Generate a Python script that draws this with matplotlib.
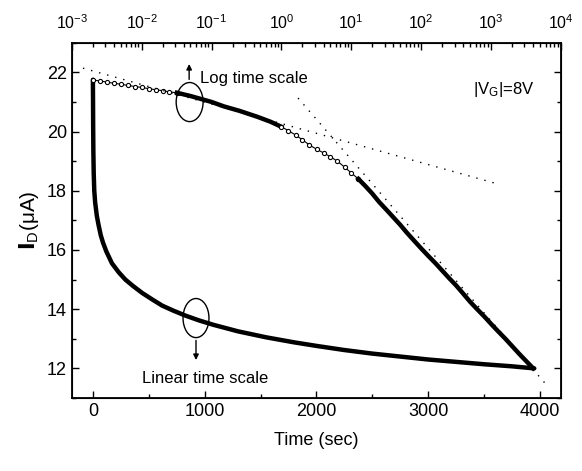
import matplotlib
matplotlib.use('Agg')
import matplotlib.pyplot as plt
from matplotlib.patches import Ellipse
from matplotlib.ticker import MultipleLocator, LogLocator, NullFormatter

plt.rcParams.update({'font.family': ['Liberation Sans', 'DejaVu Sans'],
                     'mathtext.default': 'regular', 'font.size': 13})

# linear time scale curve (bottom axis)
t_lin = [0, 0, 1, 2, 4, 7, 12, 20, 35, 50, 70, 90, 120, 170, 230, 290, 360,
         440, 530, 620, 720, 830, 950, 1080, 1300, 1550, 1800, 2000, 2250,
         2500, 2750, 3000, 3250, 3500, 3750, 3950]
i_lin = [21.75, 21.5, 21.0, 20.2, 19.3, 18.6, 18.0, 17.6, 17.15, 16.85,
         16.5, 16.25, 15.95, 15.55, 15.25, 15.0, 14.78, 14.55, 14.33, 14.12,
         13.95, 13.78, 13.62, 13.47, 13.25, 13.05, 12.88, 12.76, 12.62, 12.5,
         12.4, 12.3, 12.22, 12.14, 12.07, 12.0]

# log time scale curve (top axis), sparse parts drawn as open circles
t_log_a = [0.002, 0.0025, 0.0032, 0.004, 0.005, 0.0063, 0.008, 0.01,
           0.0126, 0.016, 0.02, 0.025, 0.032]
i_log_a = [21.74, 21.71, 21.67, 21.63, 21.60, 21.56, 21.52, 21.49,
           21.45, 21.41, 21.38, 21.34, 21.31]
t_log_b = [0.032, 0.05, 0.1, 0.15, 0.25, 0.45, 0.7, 1.0]
i_log_b = [21.31, 21.2, 21.0, 20.85, 20.7, 20.5, 20.33, 20.16]
t_log_c = [1.0, 1.26, 1.6, 2.0, 2.5, 3.2, 4.0, 5.0, 6.3, 8.0, 10, 12.6]
i_log_c = [20.16, 20.03, 19.88, 19.72, 19.55, 19.4, 19.28, 19.15, 19.0,
           18.8, 18.6, 18.4]
t_log_d = [12.6, 16, 20, 25, 32, 40, 50, 63, 80, 100, 126, 160, 200, 250,
           316, 400, 500, 630, 800, 1000, 1260, 1600, 2000, 2500, 3160, 4000]
i_log_d = [18.4, 18.15, 17.9, 17.62, 17.35, 17.1, 16.85, 16.57, 16.3,
           16.05, 15.8, 15.55, 15.3, 15.05, 14.8, 14.52, 14.25, 14.0, 13.75,
           13.5, 13.25, 13.0, 12.75, 12.5, 12.25, 12.0]

# dotted fit lines (log time)
fit1_t = [0.00145, 1200]
fit1_i = [22.14, 18.24]
fit2_t = [1.73, 6100]
fit2_i = [21.13, 11.46]

top_ticks = [1e-3, 1e-2, 1e-1, 1e0, 1e1, 1e2, 1e3, 1e4]
top_labels = [r'$10^{-3}$', r'$10^{-2}$', r'$10^{-1}$', r'$10^{0}$',
              r'$10^{1}$', r'$10^{2}$', r'$10^{3}$', r'$10^{4}$']

fig = plt.figure(figsize=(5.82, 4.71), dpi=100)
ax = fig.add_axes([0.1232, 0.155, 0.8408, 0.7543])
ax.plot(t_lin, i_lin, color='black', lw=3.2, solid_capstyle='round',
        solid_joinstyle='round')
ax.set_xlim(-190, 4190)
ax.set_ylim(11, 23)
ax.xaxis.set_major_locator(MultipleLocator(1000))
ax.xaxis.set_minor_locator(MultipleLocator(500))
ax.yaxis.set_major_locator(MultipleLocator(2))
ax.yaxis.set_minor_locator(MultipleLocator(1))
ax.tick_params(which='both', direction='in', right=True, labelsize=13)
ax.tick_params(which='major', length=5, width=1)
ax.tick_params(which='minor', length=3, width=1)
ax.set_xlabel('Time (sec)', fontsize=13, labelpad=9)
ax.set_ylabel(r'$\mathbf{I}_{D}$($\mu$A)', fontsize=15, labelpad=4)
for s in ax.spines.values():
    s.set_linewidth(1.3)

ax2 = ax.twiny()
ax2.set_xscale('log')
ax2.set_xlim(1e-3, 1e4)
ax2.plot(t_log_a, i_log_a, color='black', lw=0.8, marker='o', ms=3,
         mfc='white', mew=0.8)
ax2.plot(t_log_b, i_log_b, color='black', lw=3.2, solid_joinstyle='round')
ax2.plot(t_log_c, i_log_c, color='black', lw=0.8, marker='o', ms=3,
         mfc='white', mew=0.8)
ax2.plot(t_log_d, i_log_d, color='black', lw=3.2, solid_joinstyle='round')
ax2.plot(fit1_t, fit1_i, color='black', lw=1, ls=(0, (1, 5)))
ax2.plot(fit2_t, fit2_i, color='black', lw=1, ls=(0, (1, 5)))
ax2.set_xticks(top_ticks, top_labels)
ax2.xaxis.set_minor_locator(LogLocator(base=10, subs=range(2, 10), numticks=100))
ax2.xaxis.set_minor_formatter(NullFormatter())
ax2.set_xlim(1e-3, 1e4)
ax2.tick_params(which='both', direction='in', labelsize=11.5, pad=8)
ax2.tick_params(which='major', length=5, width=1)
ax2.tick_params(which='minor', length=3, width=1)

# annotations
ax.add_patch(Ellipse((0.241, 0.833), 0.055, 0.11, transform=ax.transAxes,
                     fill=False, lw=1, color='black'))
ax.add_patch(Ellipse((0.254, 0.225), 0.053, 0.11, transform=ax.transAxes,
                     fill=False, lw=1, color='black'))
ax.annotate('', xy=(0.240, 0.948), xytext=(0.240, 0.889),
            xycoords='axes fraction',
            arrowprops=dict(arrowstyle='-|>', color='black', lw=1,
                            mutation_scale=8))
ax.annotate('', xy=(0.254, 0.099), xytext=(0.254, 0.170),
            xycoords='axes fraction',
            arrowprops=dict(arrowstyle='-|>', color='black', lw=1,
                            mutation_scale=8))
ax.text(0.262, 0.90, 'Log time scale', transform=ax.transAxes,
        ha='left', va='center', fontsize=12)
ax.text(0.144, 0.056, 'Linear time scale', transform=ax.transAxes,
        ha='left', va='center', fontsize=12)
ax.text(0.82, 0.867, r'|V$_G$|=8V', transform=ax.transAxes,
        ha='left', va='center', fontsize=12)

fig.savefig('out.png', dpi=100)
